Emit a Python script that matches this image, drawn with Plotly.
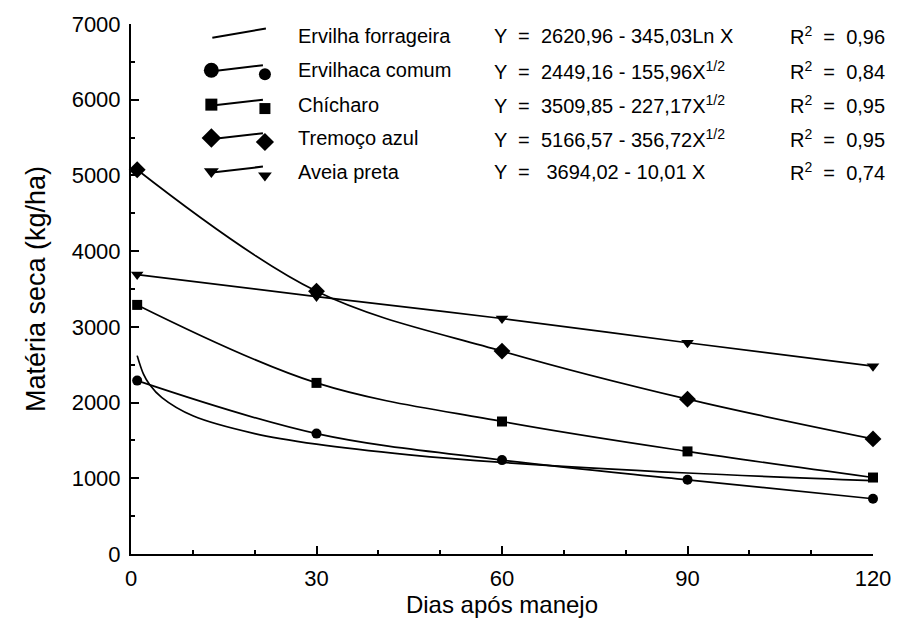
import plotly.graph_objects as go

# ---- data ----
dias = [1, 30, 60, 90, 120]
ervilhaca_comum = [2290, 1590, 1240, 980, 730]
chicharo = [3290, 2260, 1750, 1355, 1010]
tremoco_azul = [5075, 3470, 2680, 2045, 1520]
aveia_preta = [3690, 3400, 3110, 2790, 2480]

# Ervilha forrageira: curve only (no markers)
forr_x = [1, 2, 3, 5, 10, 20, 30, 45, 60, 90, 120]
forr_y = [2620, 2380, 2240, 2065, 1825, 1590, 1450, 1310, 1210, 1070, 970]

nomes = ["Ervilha forrageira", "Ervilhaca comum", "Chícharo", "Tremoço azul", "Aveia preta"]
equacoes = [
    "Y  =  2620,96 - 345,03Ln X",
    "Y  =  2449,16 - 155,96X<sup>1/2</sup>",
    "Y  =  3509,85 - 227,17X<sup>1/2</sup>",
    "Y  =  5166,57 - 356,72X<sup>1/2</sup>",
    "Y  =   3694,02 - 10,01 X",
]
r2 = ["0,96", "0,84", "0,95", "0,95", "0,74"]

x_ticks = [0, 30, 60, 90, 120]
y_ticks = [0, 1000, 2000, 3000, 4000, 5000, 6000, 7000]

FONT = "Liberation Sans, Arial, sans-serif"
LINE = dict(color="black", width=1.7)

fig = go.Figure()

fig.add_trace(go.Scatter(x=forr_x, y=forr_y, mode="lines", line=dict(shape="spline", **LINE),
                         showlegend=False))
series = [
    (ervilhaca_comum, "circle", 10),
    (chicharo, "square", 10),
    (tremoco_azul, "diamond", 13),
    (aveia_preta, "triangle-down", 11),
]
for vals, sym, sz in series:
    fig.add_trace(go.Scatter(x=dias, y=vals, mode="lines+markers",
                             line=dict(shape="spline", smoothing=1, **LINE),
                             marker=dict(symbol=sym, size=sz, color="black"),
                             showlegend=False, cliponaxis=False))

# ---- hand-drawn style legend (pixel-like coords on an overlay axis) ----
row_y = [27, 62, 97, 131, 165]
fig.add_trace(go.Scatter(x=[213, 267], y=[29, 19.5], mode="lines", line=dict(color="black", width=2),
                         xaxis="x2", yaxis="y2", showlegend=False))
leg_syms = [("circle", 15, 12), ("square", 12, 11), ("diamond", 15, 14), ("triangle-down", 13, 12)]
for i, (sym, big, small) in enumerate(leg_syms):
    yc = row_y[i + 1]
    fig.add_trace(go.Scatter(x=[213, 264], y=[yc + 1, yc - 5], mode="lines",
                             line=dict(color="black", width=2),
                             xaxis="x2", yaxis="y2", showlegend=False))
    fig.add_trace(go.Scatter(x=[212], y=[yc], mode="markers",
                             marker=dict(symbol=sym, size=big, color="black"),
                             xaxis="x2", yaxis="y2", showlegend=False))
    fig.add_trace(go.Scatter(x=[266], y=[yc + 4], mode="markers",
                             marker=dict(symbol=sym, size=small, color="black"),
                             xaxis="x2", yaxis="y2", showlegend=False))

annotations = []
for i in range(5):
    for xpos, txt in [(297, nomes[i]), (495, equacoes[i]), (793, "R<sup>2</sup>  =  " + r2[i])]:
        annotations.append(dict(x=xpos, y=row_y[i], xref="x2", yref="y2", text=txt,
                                showarrow=False, xanchor="left", yanchor="middle",
                                font=dict(family=FONT, size=20, color="black")))

axis_common = dict(showline=True, linewidth=2, linecolor="black", showgrid=False, zeroline=False,
                   ticks="inside", ticklen=8, tickwidth=2, tickcolor="black",
                   tickfont=dict(family=FONT, size=22, color="black"))

fig.update_layout(
    width=903, height=626,
    margin=dict(l=131, r=24, t=15, b=72),
    paper_bgcolor="white", plot_bgcolor="white",
    xaxis=dict(range=[0, 120], tickvals=x_ticks, **axis_common, ticklabelstandoff=4,
               minor=dict(ticks="inside", ticklen=4, tickwidth=1.5, tickcolor="black", dtick=10, tick0=0),
               title=dict(text="Dias após manejo", font=dict(family=FONT, size=24, color="black"), standoff=6)),
    yaxis=dict(range=[0, 7000], tickvals=y_ticks, **axis_common, ticklabelstandoff=4,
               minor=dict(ticks="inside", ticklen=4, tickwidth=1.5, tickcolor="black", dtick=500, tick0=0),
               title=dict(text="Matéria seca (kg/ha)", font=dict(family=FONT, size=27, color="black"), standoff=18)),
    xaxis2=dict(range=[131, 879], overlaying="x", visible=False),
    yaxis2=dict(range=[554, 15], overlaying="y", visible=False),
    annotations=annotations,
)

fig.write_html("out.html")
